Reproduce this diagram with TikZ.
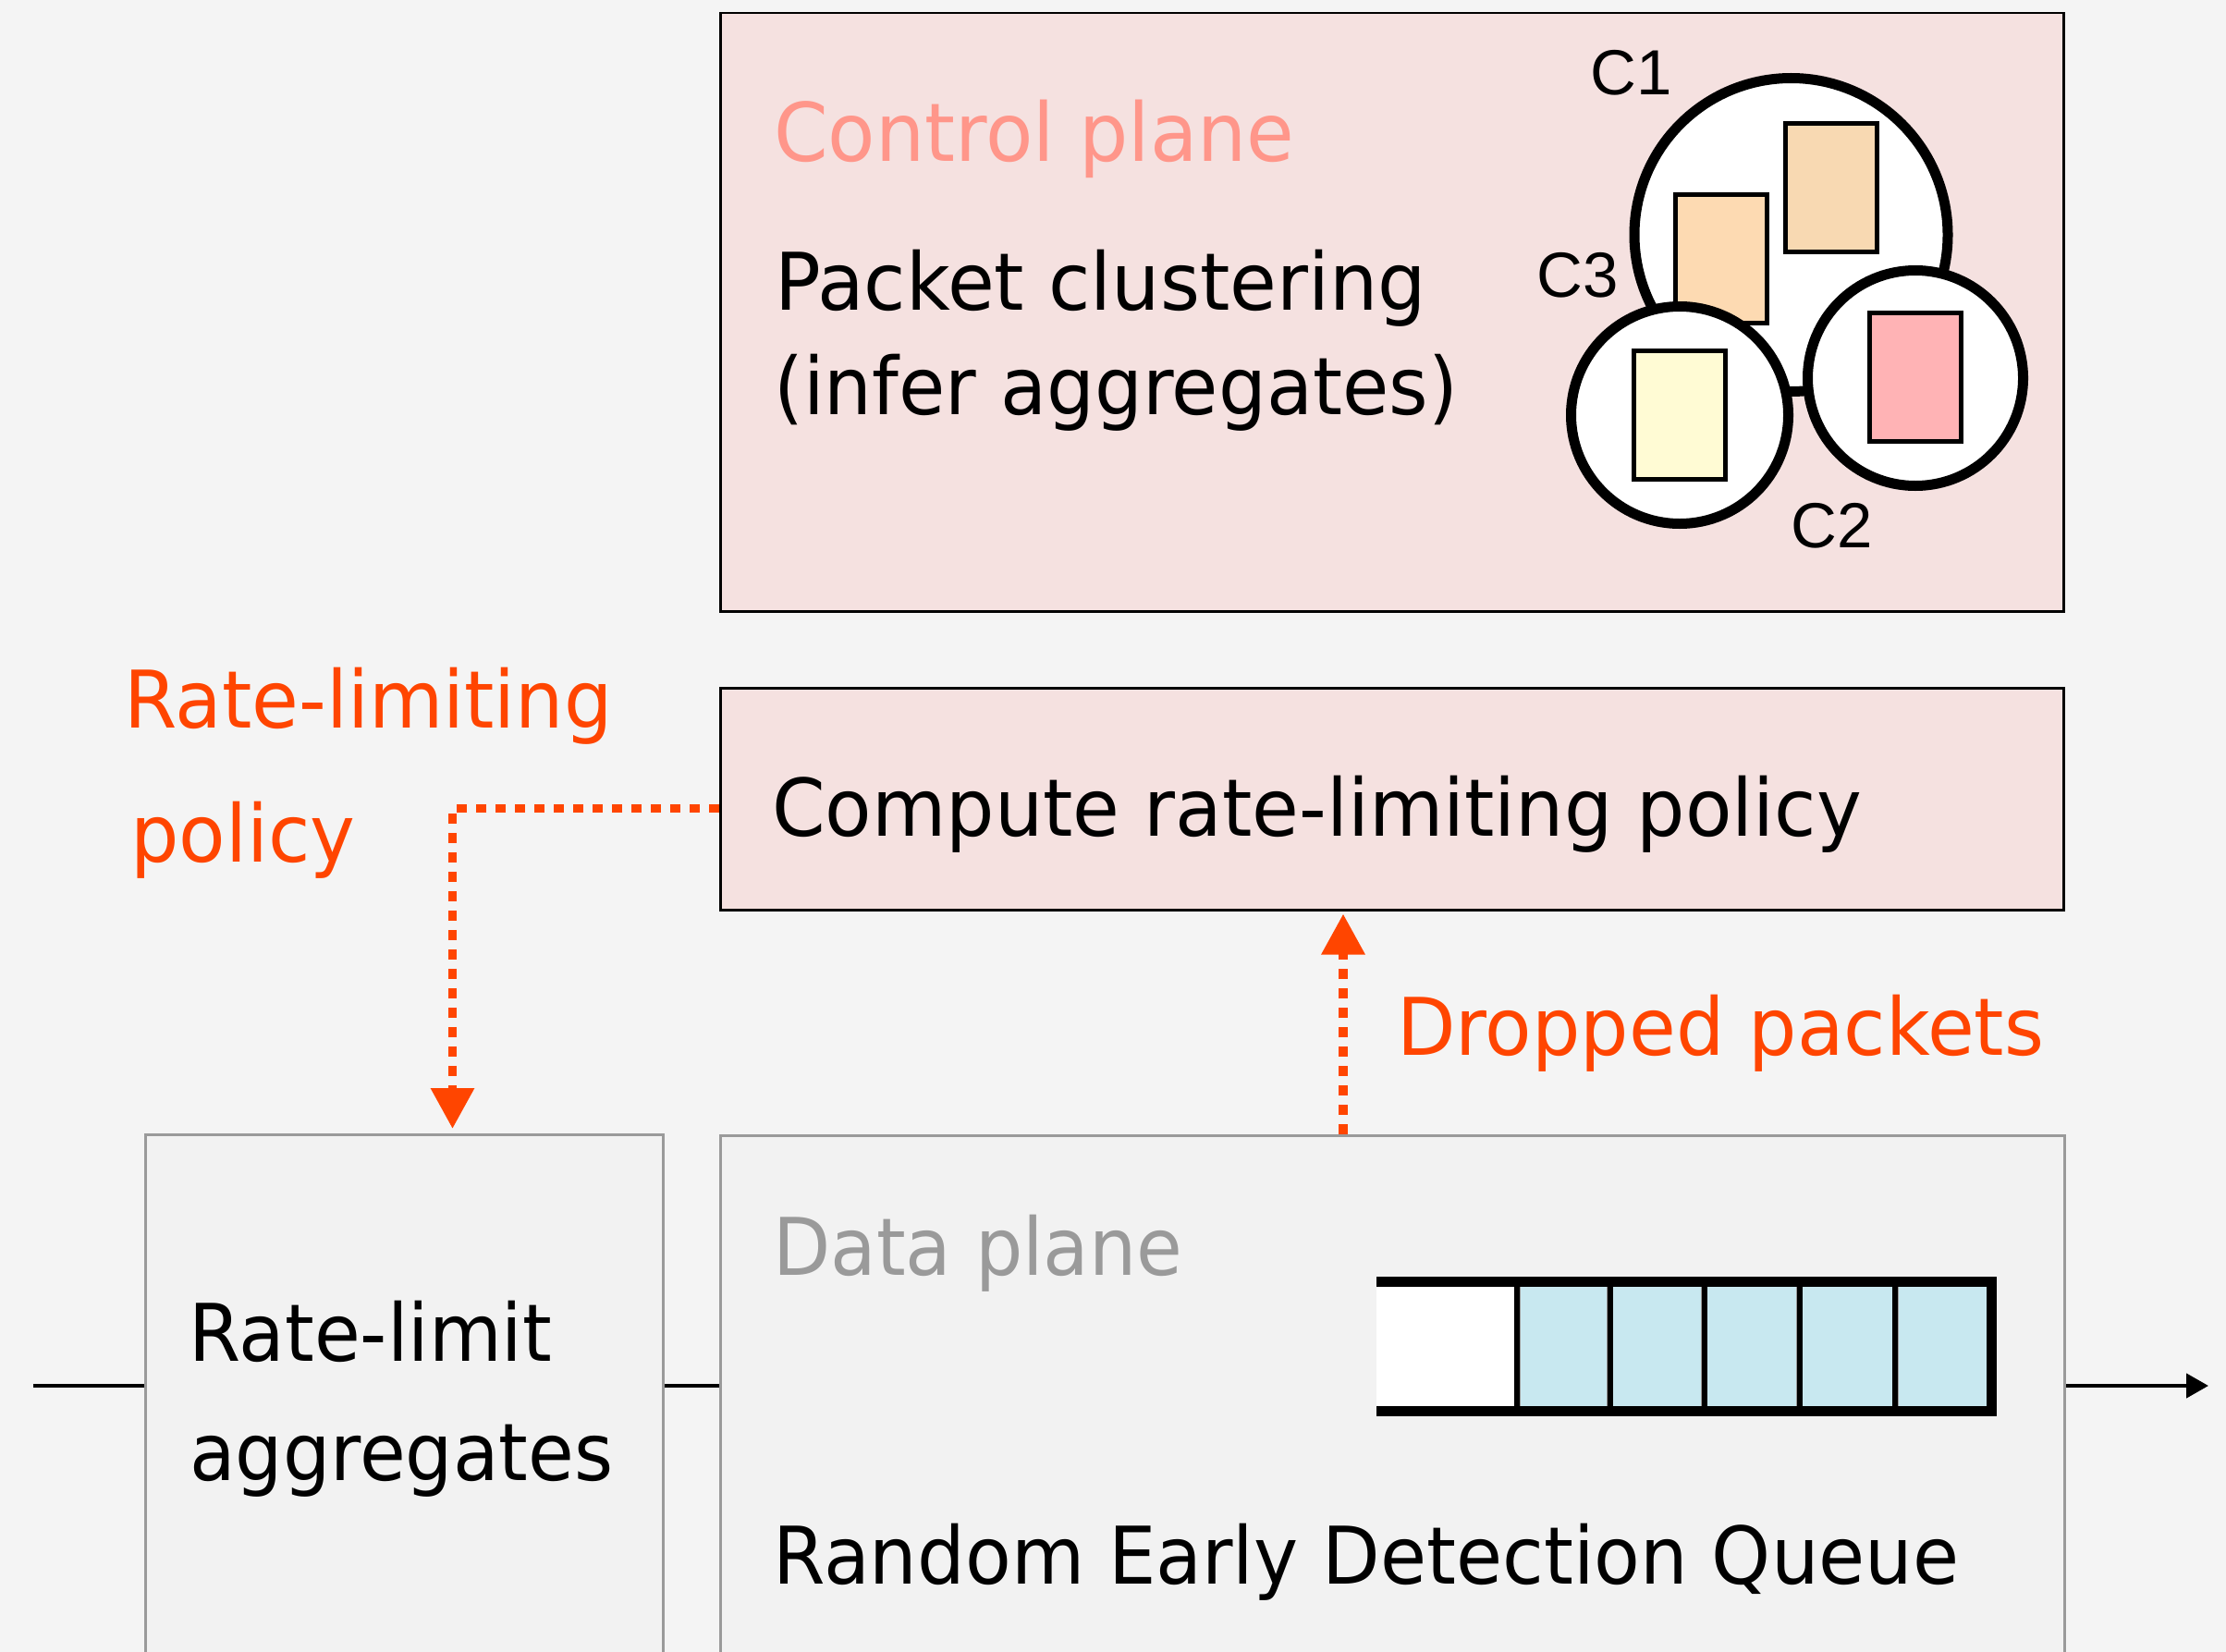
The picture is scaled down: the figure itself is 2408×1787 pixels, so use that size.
\documentclass[tikz,border=0pt]{standalone}
\usepackage{fontspec}
\usepackage{graphicx}
\setmainfont{DejaVu Sans}[FakeStretch=0.96]
\newfontfamily\clusterfont{Liberation Sans}
\usetikzlibrary{arrows.meta,calc}

\definecolor{bgcol}{HTML}{F4F4F4}
\definecolor{datafill}{HTML}{F2F2F2}
\definecolor{boxgray}{HTML}{9A9A9A}
\definecolor{ctrlpink}{HTML}{F5E1E0}
\definecolor{signal}{HTML}{FF4500}
\definecolor{salmon}{HTML}{FF968A}
\definecolor{queueblue}{HTML}{C8E8F0}
\definecolor{pktorangeA}{HTML}{FDDAB2}
\definecolor{pktorangeB}{HTML}{F8D9B2}
\definecolor{pktyellow}{HTML}{FFFBD4}
\definecolor{pktpink}{HTML}{FFB3B5}

\tikzset{
  ctrlbox/.style={rectangle, draw=black, line width=2.5pt, fill=ctrlpink,
    inner sep=0pt, anchor=north west},
  databox/.style={rectangle, draw=boxgray, line width=3pt, fill=datafill,
    inner sep=0pt, anchor=north west},
  bigtext/.style={font=\fontsize{86}{100}\selectfont, inner sep=0pt,
    anchor=base west},
  feedback/.style={draw=signal, line width=9.5pt, dash pattern=on 11pt off 10pt},
  sigtip/.style={-{Triangle[length=44pt,width=45pt]}},
  wire/.style={draw=black, line width=4.5pt},
  cluster/.style={circle, draw=black, line width=11pt, fill=white,
    inner sep=0pt},
  pkt/.style={rectangle, draw=black, line width=5pt, inner sep=0pt,
    minimum width=99pt, minimum height=139pt},
  clabel/.style={font=\clusterfont\fontsize{69}{70}\selectfont, inner sep=0pt}
}

\begin{document}
\begin{tikzpicture}[x=1pt, y=-1pt]
  % canvas
  \useasboundingbox (0,0) rectangle (2408,1787);
  \fill[bgcol] (0,0) rectangle (2408,1787);
  \clip (0,0) rectangle (2408,1787);

  % ---------- control plane ----------
  \node[ctrlbox, minimum width=1453pt, minimum height=647pt] (ctrl) at (778,13) {};
  \node[bigtext, font=\fontsize{87.5}{100}\selectfont, text=salmon] (ctrltitle)
    at (837,175) {Control plane};
  \node[bigtext] (cluster1) at (838,335) {Packet clustering};
  \node[bigtext] (cluster2) at (837,448) {\scalebox{0.99}[1]{(infer aggregates)}};

  % clusters of packets
  \node[cluster, minimum size=339pt] (cA) at (1937.5,254) {};
  \node[pkt, fill=pktorangeA] (p1) at (1862.3,280) {};
  \node[pkt, fill=pktorangeB] (p2) at (1981.4,203.5) {};
  \node[cluster, minimum size=235pt] (cC) at (1817,449) {};
  \node[cluster, minimum size=233pt] (cB) at (2072,409) {};
  \node[pkt, fill=pktyellow] (p3) at (1817.2,448.7) {};
  \node[pkt, fill=pktpink] (p4) at (2072,408.2) {};
  \node[clabel] (lA) at (1765,79) {C1};
  \node[clabel] (lC) at (1707,298) {C3};
  \node[clabel] (lB) at (1982,569) {C2};

  % ---------- policy computation ----------
  \node[ctrlbox, minimum width=1453pt, minimum height=240pt] (compute) at (778,743) {};
  \node[bigtext] (computetext) at (835,904) {Compute rate-limiting policy};

  % ---------- data path ----------
  \node[databox, minimum width=560pt, minimum height=640pt] (ratebox) at (156,1226) {};
  \node[bigtext] (rate1) at (204,1472) {\scalebox{0.98}[1]{Rate-limit}};
  \node[bigtext] (rate2) at (205,1601) {\scalebox{0.98}[1]{aggregates}};

  \node[databox, minimum width=1454pt, minimum height=640pt] (database) at (778,1227) {};
  \node[bigtext, text=boxgray] (datatitle) at (836,1379) {\scalebox{0.98}[1]{Data plane}};
  \node[bigtext] (redtext) at (836,1713) {\scalebox{0.986}[1]{Random Early Detection Queue}};

  % RED queue
  \fill[white] (1489,1390) rectangle (1642,1523);
  \foreach \a/\b in {1644/1738.5, 1744.5/1840.5, 1846.5/1943.5, 1949.5/2047, 2053/2149}
    \filldraw[fill=queueblue, draw=boxgray, line width=1pt] (\a,1389.5) rectangle (\b,1523);
  \foreach \d in {1641, 1741.5, 1843.5, 1946.5, 2050}
    \draw[line width=6pt] (\d,1387) -- (\d,1527);
  \draw[line width=11pt, line join=miter] (1489,1386.5) -- (2154,1386.5)
    -- (2154,1526.5) -- (1489,1526.5);

  % packet flow
  \coordinate (in) at (36,1499);
  \coordinate (out) at (2389,1499);
  \draw[wire] (in) -- (in -| ratebox.west);
  \draw[wire] (in -| ratebox.east) -- (in -| database.west);
  \draw[wire, -{Triangle[length=24pt,width=26pt]}] (out -| database.east) -- (out);

  % feedback signals
  \coordinate (bend) at (489.5,874.3);
  \draw[feedback, sigtip, shorten >=5pt]
    (bend -| compute.west) -- (bend) -- (bend |- ratebox.north);
  \node[bigtext, text=signal] (policylabel1) at (134,787) {Rate-limiting};
  \node[bigtext, text=signal] (policylabel2) at (141,932) {policy};

  \coordinate (drop) at (1453,1000);
  \draw[feedback, sigtip, shorten >=3pt]
    (drop |- database.north) -- (drop |- compute.south);
  \node[bigtext, text=signal] (droplabel) at (1511,1141) {Dropped packets};
\end{tikzpicture}
\end{document}
